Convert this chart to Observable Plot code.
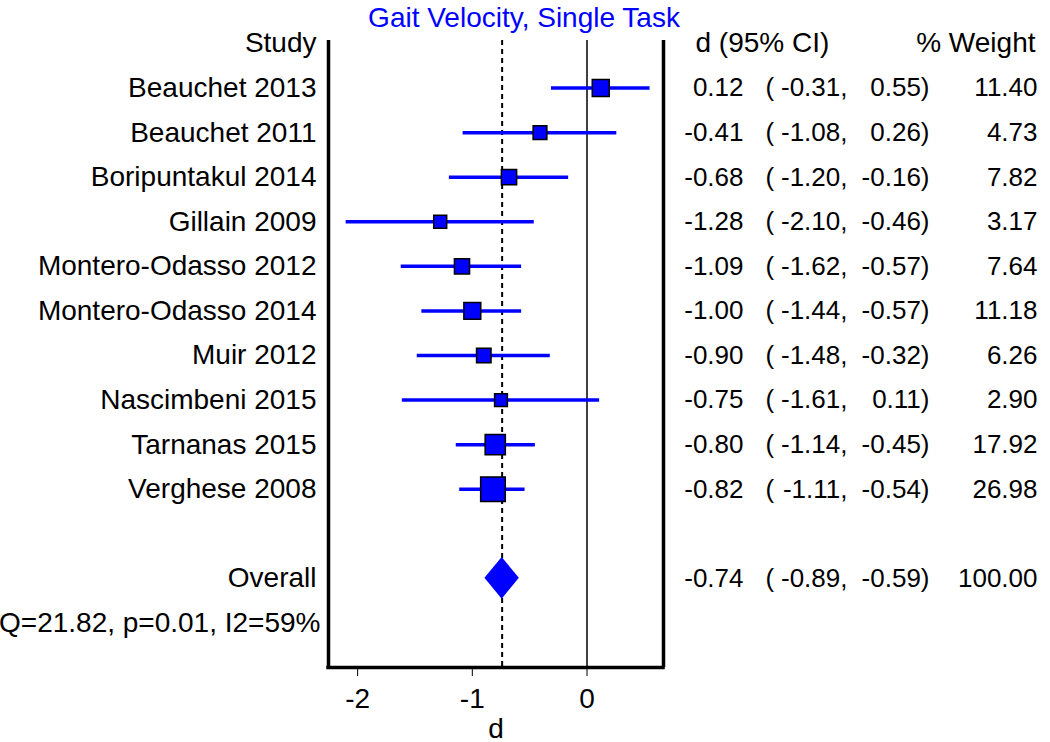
<!DOCTYPE html>
<html>
<head>
<meta charset="utf-8">
<script src="https://cdn.jsdelivr.net/npm/d3@7"></script>
<script src="https://cdn.jsdelivr.net/npm/@observablehq/plot@0.6"></script>
<style>
  html, body { margin: 0; padding: 0; background: white; }
  #chart svg { display: block; }
</style>
</head>
<body>
<div id="chart"></div>
<script>
// ---- data ----
const title = "Gait Velocity, Single Task";
const studies = ["Beauchet 2013", "Beauchet 2011", "Boripuntakul 2014", "Gillain 2009",
  "Montero-Odasso 2012", "Montero-Odasso 2014", "Muir 2012", "Nascimbeni 2015",
  "Tarnanas 2015", "Verghese 2008"];
const dValues = [0.12, -0.41, -0.68, -1.28, -1.09, -1.00, -0.90, -0.75, -0.80, -0.82];
const ciLower = [-0.31, -1.08, -1.20, -2.10, -1.62, -1.44, -1.48, -1.61, -1.14, -1.11];
const ciUpper = [0.55, 0.26, -0.16, -0.46, -0.57, -0.57, -0.32, 0.11, -0.45, -0.54];
const weights = [11.40, 4.73, 7.82, 3.17, 7.64, 11.18, 6.26, 2.90, 17.92, 26.98];
const overallLabel = "Overall";
const overallD = -0.74, overallLower = -0.89, overallUpper = -0.59, overallWeight = 100.00;
const statText = "Q=21.82, p=0.01, I2=59%";
const headerStudy = "Study", headerCI = "d (95% CI)", headerWeight = "% Weight";
const xTicks = [-2, -1, 0];
const xLabel = "d";
const xDomain = [-2.254, 0.667];

// ---- derived table ----
const rows = studies.map((s, i) => ({
  study: s, d: dValues[i], lo: ciLower[i], hi: ciUpper[i], w: weights[i], row: i + 1
}));
const overallRow = studies.length + 2;
const statRow = overallRow + 1;
const yDomain = [-0.067, statRow + 1];
const fmt = v => v.toFixed(2);
const textRows = rows.map(r => ({...r})).concat([{study: overallLabel, d: overallD, lo: overallLower, hi: overallUpper, w: overallWeight, row: overallRow}]);
const diamondHalf = 0.47;
const diamond = [
  {y: overallRow - diamondHalf, x1: overallD, x2: overallD},
  {y: overallRow, x1: overallLower, x2: overallUpper},
  {y: overallRow + diamondHalf, x1: overallD, x2: overallD}
];

const BLUE = "#0000ff";
const FONT = "'Liberation Sans', Arial, Helvetica, sans-serif";

const chart = Plot.plot({
  width: 1050,
  height: 742,
  marginLeft: 328,
  marginRight: 387,
  marginTop: 40,
  marginBottom: 75,
  style: {fontFamily: FONT, fontSize: "28px", color: "black", background: "white"},
  x: {domain: xDomain, label: null},
  y: {domain: yDomain, reverse: true, axis: null},
  r: {type: "linear", domain: [0, 27], range: [6.43, 13.9]},
  marks: [
    Plot.axisX({ticks: xTicks, tickSize: 9, tickPadding: 12, fontSize: 28, label: null, tickFormat: d => String(d)}),
    Plot.ruleX([0], {stroke: "black", strokeWidth: 1.5}),
    Plot.ruleX([overallD], {stroke: "black", strokeWidth: 2, strokeDasharray: "5,4"}),
    Plot.ruleX(xDomain, {stroke: "black", strokeWidth: 3.5}),
    Plot.ruleY([yDomain[1]], {stroke: "black", strokeWidth: 3.5, insetLeft: -1.75, insetRight: -1.75}),
    Plot.ruleY(rows, {y: "row", x1: "lo", x2: "hi", stroke: BLUE, strokeWidth: 3.5}),
    Plot.dot(rows, {x: "d", y: "row", r: "w", symbol: "square", fill: BLUE, stroke: "black", strokeWidth: 1.5}),
    Plot.areaX(diamond, {y: "y", x1: "x1", x2: "x2", fill: BLUE}),
    // title
    Plot.text([title], {frameAnchor: "top", dx: 28, dy: -33, fill: BLUE, fontSize: 28}),
    // left column
    Plot.text([headerStudy], {y: [0], frameAnchor: "left", dx: -12, textAnchor: "end", fontSize: 28}),
    Plot.text(textRows, {y: "row", text: "study", frameAnchor: "left", dx: -12, textAnchor: "end", fontSize: 28}),
    Plot.text([statText], {y: [statRow], frameAnchor: "left", dx: -8, textAnchor: "end", fontSize: 28}),
    // right columns
    Plot.text([headerCI], {y: [0], frameAnchor: "right", dx: 32, textAnchor: "start", fontSize: 28}),
    Plot.text([headerWeight], {y: [0], frameAnchor: "right", dx: 372, textAnchor: "end", fontSize: 28}),
    Plot.text(textRows, {y: "row", text: r => fmt(r.d), frameAnchor: "right", dx: 80, textAnchor: "end", fontSize: 26}),
    Plot.text(textRows, {y: "row", text: () => "(", frameAnchor: "right", dx: 102, textAnchor: "start", fontSize: 26}),
    Plot.text(textRows, {y: "row", text: r => fmt(r.lo) + ",", frameAnchor: "right", dx: 184, textAnchor: "end", fontSize: 26}),
    Plot.text(textRows, {y: "row", text: r => fmt(r.hi) + ")", frameAnchor: "right", dx: 266, textAnchor: "end", fontSize: 26}),
    Plot.text(textRows, {y: "row", text: r => fmt(r.w), frameAnchor: "right", dx: 374, textAnchor: "end", fontSize: 26}),
    // x label
    Plot.text([xLabel], {frameAnchor: "bottom", dy: 70, fontSize: 28})
  ]
});
document.getElementById("chart").appendChild(chart);
</script>
</body>
</html>
